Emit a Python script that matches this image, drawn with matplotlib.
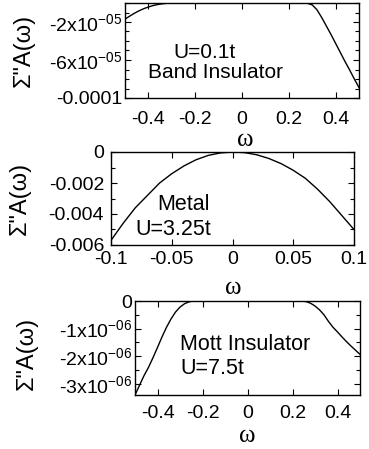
"""Imaginary self-energy times spectral function for three regimes (band insulator, metal, Mott insulator)."""
import matplotlib
matplotlib.use('Agg')
import matplotlib.pyplot as plt
from matplotlib.ticker import FixedLocator, MultipleLocator

# ---------------------------------------------------------------------------
# Data
# ---------------------------------------------------------------------------
band_w = [-0.50, -0.48, -0.46, -0.44, -0.42, -0.40, -0.38, -0.36, -0.34, -0.32,
          -0.30, -0.28, 0.26, 0.28, 0.30, 0.32, 0.34, 0.36, 0.38, 0.40,
          0.42, 0.44, 0.46, 0.48, 0.50]
band_s = [-1.70e-5, -1.38e-5, -1.08e-5, -8.2e-6, -6.0e-6, -4.2e-6, -2.7e-6, -1.6e-6, -8e-7, -3e-7,
          -1e-7, 0.0, 0.0, -3e-7, -2.0e-6, -7.0e-6, -1.5e-5, -2.4e-5, -3.3e-5, -4.25e-5,
          -5.2e-5, -6.15e-5, -7.05e-5, -8.0e-5, -8.9e-5]

metal_w = [-0.10, -0.09, -0.08, -0.07, -0.06, -0.05, -0.04, -0.03, -0.02, -0.01, 0.00,
           0.01, 0.02, 0.03, 0.04, 0.05, 0.06, 0.07, 0.08, 0.09, 0.10]
metal_s = [-0.0057, -0.0046, -0.0036, -0.0028, -0.0020, -0.0014, -0.0009, -0.0005, -0.00022, -0.00006, 0.0,
           -0.00004, -0.00018, -0.00042, -0.00075, -0.00118, -0.0017, -0.0024, -0.0032, -0.0041, -0.0050]

mott_w = [-0.50, -0.48, -0.46, -0.44, -0.42, -0.40, -0.38, -0.36, -0.34, -0.32,
          -0.30, -0.28, -0.26, -0.24, 0.24, 0.26, 0.28, 0.30, 0.32, 0.34,
          0.36, 0.38, 0.40, 0.42, 0.44, 0.46, 0.48, 0.50]
mott_s = [-3.40e-6, -3.05e-6, -2.70e-6, -2.40e-6, -2.05e-6, -1.68e-6, -1.30e-6, -0.95e-6, -0.65e-6, -0.40e-6,
          -0.22e-6, -0.10e-6, -0.03e-6, 0.0, 0.0, -0.02e-6, -0.08e-6, -0.18e-6, -0.32e-6, -0.50e-6,
          -0.74e-6, -0.95e-6, -1.12e-6, -1.30e-6, -1.47e-6, -1.63e-6, -1.78e-6, -1.93e-6]

band_yticks = [-2e-5, -6e-5, -1e-4]
band_ylabels = ['-2x10$^{-05}$', '-6x10$^{-05}$', '-0.0001']
metal_yticks = [0, -0.002, -0.004, -0.006]
metal_ylabels = ['0', '-0.002', '-0.004', '-0.006']
mott_yticks = [0, -1e-6, -2e-6, -3e-6]
mott_ylabels = ['0', '-1x10$^{-06}$', '-2x10$^{-06}$', '-3x10$^{-06}$']
wide_xticks = [-0.4, -0.2, 0, 0.2, 0.4]
wide_xlabels = ['-0.4', '-0.2', '0', '0.2', '0.4']
metal_xticks = [-0.1, -0.05, 0, 0.05, 0.1]
metal_xlabels = ['-0.1', '-0.05', '0', '0.05', '0.1']

# ---------------------------------------------------------------------------
# Style
# ---------------------------------------------------------------------------
plt.rcParams.update({
    'font.family': ['Liberation Sans', 'DejaVu Sans'],
    'mathtext.fontset': 'custom',
    'mathtext.rm': 'Liberation Sans',
    'mathtext.it': 'Liberation Sans',
    'mathtext.default': 'regular',
    'axes.linewidth': 1.0,
})

W, H = 369, 449


def px(x, y):
    """Pixel position (from top-left) to figure fraction."""
    return x / W, 1 - y / H


def add_axes(fig, x0, y0, x1, y1):
    return fig.add_axes([x0 / W, 1 - y1 / H, (x1 - x0) / W, (y1 - y0) / H])


def style(ax, xpad, ypad):
    ax.tick_params(which='both', direction='in', top=True, right=True, labelsize=14)
    ax.tick_params(axis='x', pad=xpad)
    ax.tick_params(axis='y', pad=ypad)
    ax.tick_params(which='major', length=4.5, width=0.8)
    ax.tick_params(which='minor', length=3, width=0.8)


def labels(ax, ylab_xy, xlab_xy):
    ax.set_ylabel('Σ"A(ω)', fontsize=17, va='center')
    ax.yaxis.set_label_coords(*px(*ylab_xy), transform=fig.transFigure)
    ax.set_xlabel('ω', fontsize=18, family='Liberation Serif', va='center')
    ax.xaxis.set_label_coords(*px(*xlab_xy), transform=fig.transFigure)


fig = plt.figure(figsize=(W / 100, H / 100), dpi=100)

# --- Band insulator ---
ax1 = add_axes(fig, 125, 3, 359, 98)
ax1.plot(band_w, band_s, color='black', lw=1.0)
ax1.set_xlim(-0.5, 0.5)
ax1.set_ylim(-1e-4, 0)
ax1.yaxis.set_major_locator(FixedLocator(band_yticks))
ax1.set_yticklabels(band_ylabels)
ax1.yaxis.set_minor_locator(MultipleLocator(1e-5))
ax1.set_xticks(wide_xticks, wide_xlabels)
style(ax1, 9, 2)
labels(ax1, (24, 50), (245, 140))
fig.text(*px(173, 53), 'U=0.1t', fontsize=15, va='center')
fig.text(*px(148, 73), 'Band Insulator', fontsize=15, va='center')

# --- Metal ---
ax2 = add_axes(fig, 111, 152, 354, 245)
ax2.plot(metal_w, metal_s, color='black', lw=1.0)
ax2.set_xlim(-0.1, 0.1)
ax2.set_ylim(-0.006, 0)
ax2.yaxis.set_major_locator(FixedLocator(metal_yticks))
ax2.set_yticklabels(metal_ylabels)
ax2.yaxis.set_minor_locator(MultipleLocator(0.001))
ax2.set_xticks(metal_xticks, metal_xlabels)
style(ax2, 4, 5)
labels(ax2, (20, 198), (233, 288))
fig.text(*px(157, 205), 'Metal', fontsize=15.5, va='center')
fig.text(*px(135, 229), 'U=3.25t', fontsize=15.5, va='center')

# --- Mott insulator ---
ax3 = add_axes(fig, 135, 301, 360, 395)
ax3.plot(mott_w, mott_s, color='black', lw=1.0)
ax3.set_xlim(-0.5, 0.5)
ax3.set_ylim(-3.4e-6, 0)
ax3.yaxis.set_major_locator(FixedLocator(mott_yticks))
ax3.set_yticklabels(mott_ylabels)
ax3.yaxis.set_minor_locator(MultipleLocator(5e-7))
ax3.set_xticks(wide_xticks, wide_xlabels)
style(ax3, 7, 2)
labels(ax3, (27, 353), (247, 436))
fig.text(*px(180, 344), 'Mott Insulator', fontsize=15.5, va='center')
fig.text(*px(180, 369), 'U=7.5t', fontsize=15.5, va='center')

fig.savefig('out.png', dpi=100)
